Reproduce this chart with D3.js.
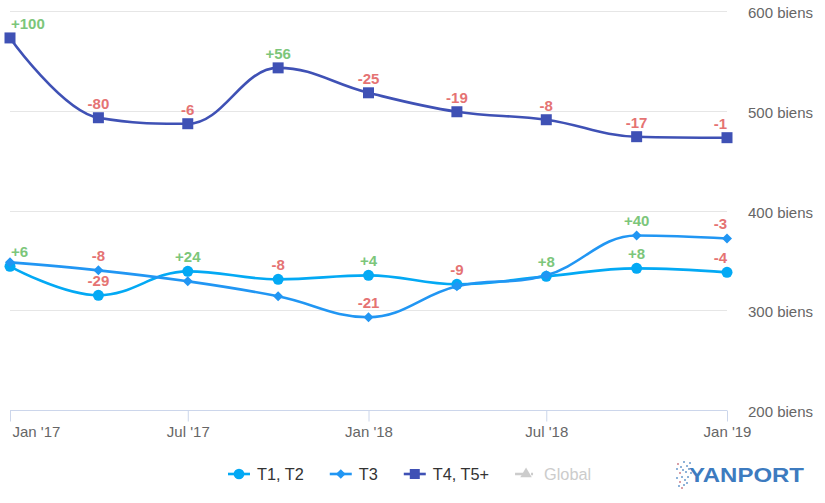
<!DOCTYPE html>
<html>
<head>
<meta charset="utf-8">
<script src="https://cdn.jsdelivr.net/npm/d3@7"></script>
<style>
  html, body { margin: 0; padding: 0; background: #fff; }
  svg { display: block; font-family: "Liberation Sans", Arial, sans-serif; }
</style>
</head>
<body>
<svg id="chart" width="825" height="503"></svg>
<script>
// ---- data ----
const dates = ["2017-01-01","2017-04-01","2017-07-01","2017-10-01","2018-01-01","2018-04-01","2018-07-01","2018-10-01","2019-01-01"];
const xTickDates = ["2017-01-01","2017-07-01","2018-01-01","2018-07-01","2019-01-01"];
const xTickLabels = ["Jan '17","Jul '17","Jan '18","Jul '18","Jan '19"];
const yTicks = [200, 300, 400, 500, 600];
const yTickSuffix = " biens";

const t12Values = [344, 315, 339, 331, 335, 326, 334, 342, 338];
const t12Changes = [6, -29, 24, -8, 4, -9, 8, 8, -4];
const t3Values = [348, 340, 329, 314, 293, 324, 335, 375, 372];
const t3Changes = [null, -8, null, null, -21, null, null, 40, -3];
const t45Values = [573, 493, 487, 543, 518, 499, 491, 474, 473];
const t45Changes = [100, -80, -6, 56, -25, -19, -8, -17, -1];

const seriesNames = ["T1, T2", "T3", "T4, T5+", "Global"];
const seriesColors = ["#03a9f4", "#2196f3", "#3f51b5", "#cccccc"];
const seriesSymbols = ["circle", "diamond", "square", "triangle"];

// ---- setup ----
const svg = d3.select("#chart");
const parse = d3.timeParse("%Y-%m-%d");
const X0 = 10, X1 = 727, Y0 = 410, Y1 = 11;

const x = d3.scaleTime().domain([parse(dates[0]), parse(dates[dates.length - 1])]).range([X0, X1]);
const y = d3.scaleLinear().domain([200, 600]).range([Y0, Y1]);

// gridlines
svg.append("g").selectAll("line").data(yTicks.filter(d => d !== 200)).join("line")
  .attr("x1", X0).attr("x2", X1)
  .attr("y1", d => Math.round(y(d)) + 0.5).attr("y2", d => Math.round(y(d)) + 0.5)
  .attr("stroke", "#e6e6e6").attr("stroke-width", 1);

// y labels (right)
svg.append("g").selectAll("text").data(yTicks).join("text")
  .attr("x", 748).attr("y", d => y(d) + 7)
  .attr("font-size", 15).attr("fill", "#666666")
  .text(d => d + yTickSuffix);

// x axis
const xAxisG = svg.append("g").attr("transform", `translate(0,${Y0 + 0.5})`)
  .call(d3.axisBottom(x).tickValues(xTickDates.map(parse)).tickSize(11).tickFormat((d, i) => xTickLabels[i]));
xAxisG.select(".domain").attr("stroke", "#ccd6eb").attr("d", `M${X0},0H${X1}`);
xAxisG.selectAll(".tick line").attr("stroke", "#ccd6eb");
xAxisG.selectAll(".tick text").attr("font-size", 15).attr("fill", "#666666")
  .attr("font-family", "Liberation Sans, Arial, sans-serif").attr("y", 16).attr("dy", "0.71em")
  .each(function(d) {
    const w = this.getComputedTextLength();
    const cx = x(d);
    if (cx - w / 2 < 11) d3.select(this).attr("text-anchor", "start").attr("x", 12 - cx);
  });

// Highcharts-like spline path
function splinePath(pts) {
  const smoothing = 1.5, denom = 2.5;
  const p = d3.path();
  const rc = [];
  pts.forEach((pt, i) => {
    const [px, py] = pt;
    let lcx, lcy, rcx, rcy;
    if (i > 0 && i < pts.length - 1) {
      const [lx, ly] = pts[i - 1], [nx, ny] = pts[i + 1];
      lcx = (smoothing * px + lx) / denom; lcy = (smoothing * py + ly) / denom;
      rcx = (smoothing * px + nx) / denom; rcy = (smoothing * py + ny) / denom;
      let corr = 0;
      if (rcx !== lcx) corr = ((rcy - lcy) * (rcx - px)) / (rcx - lcx) + py - rcy;
      lcy += corr; rcy += corr;
      if (lcy > ly && lcy > py) { lcy = Math.max(ly, py); rcy = 2 * py - lcy; }
      else if (lcy < ly && lcy < py) { lcy = Math.min(ly, py); rcy = 2 * py - lcy; }
      if (rcy > ny && rcy > py) { rcy = Math.max(ny, py); lcy = 2 * py - rcy; }
      else if (rcy < ny && rcy < py) { rcy = Math.min(ny, py); lcy = 2 * py - rcy; }
      rc[i] = [rcx, rcy];
    }
    if (i === 0) p.moveTo(px, py);
    else {
      const prev = rc[i - 1] || pts[i - 1];
      p.bezierCurveTo(prev[0], prev[1], lcx === undefined ? px : lcx, lcy === undefined ? py : lcy, px, py);
    }
  });
  return p.toString();
}

function symbolPath(type, size) {
  if (type === "circle") return d3.symbol(d3.symbolCircle, size)();
  if (type === "square") return d3.symbol(d3.symbolSquare, size)();
  if (type === "triangle") return d3.symbol(d3.symbolTriangle, size)();
  const r = Math.sqrt(size / 2);
  return `M0,${-r}L${r},0L0,${r}L${-r},0Z`;
}
const markerSizes = { circle: Math.PI * 5.5 * 5.5, diamond: 2 * 5 * 5, square: 11 * 11, triangle: 60 };

const series = [
  { values: t12Values, changes: t12Changes, idx: 0 },
  { values: t3Values, changes: t3Changes, idx: 1 },
  { values: t45Values, changes: t45Changes, idx: 2 }
];

const plotG = svg.append("g");
series.forEach(s => {
  const pts = s.values.map((v, i) => [x(parse(dates[i])), y(v)]);
  const g = plotG.append("g");
  g.append("path").attr("d", splinePath(pts)).attr("fill", "none")
    .attr("stroke", seriesColors[s.idx]).attr("stroke-width", 2.6)
    .attr("stroke-linejoin", "round").attr("stroke-linecap", "round");
  g.selectAll("path.m").data(pts).join("path").attr("class", "m")
    .attr("transform", d => `translate(${d[0]},${d[1]})`)
    .attr("d", symbolPath(seriesSymbols[s.idx], markerSizes[seriesSymbols[s.idx]]))
    .attr("fill", seriesColors[s.idx]);
});

// data labels
const labelG = svg.append("g");
series.forEach(s => {
  s.values.forEach((v, i) => {
    const c = s.changes[i];
    if (c === null) return;
    const px = x(parse(dates[i])), py = y(v);
    const t = labelG.append("text")
      .attr("x", px).attr("y", py - 9)
      .attr("text-anchor", "middle")
      .attr("font-size", 15).attr("font-weight", "bold")
      .attr("fill", c >= 0 ? "#7cc67a" : "#e57373")
      .text((c > 0 ? "+" : "") + c);
    const w = t.node().getComputedTextLength();
    if (px - w / 2 < X0 + 1) t.attr("text-anchor", "start").attr("x", X0 + 1);
    else if (px + w / 2 > X1) t.attr("text-anchor", "end").attr("x", X1);
  });
});

// legend
const legend = svg.append("g");
let cursor = 228;
const ly = 474;
seriesNames.forEach((name, i) => {
  const g = legend.append("g").attr("transform", `translate(${cursor},0)`);
  const hidden = i === 3;
  g.append("line").attr("x1", 0).attr("x2", 22).attr("y1", ly).attr("y2", ly)
    .attr("stroke", seriesColors[i]).attr("stroke-width", 2.6)
    .attr("stroke-dasharray", hidden ? "8,8,2,6" : null);
  g.append("path").attr("transform", `translate(11,${ly})`)
    .attr("d", symbolPath(seriesSymbols[i], seriesSymbols[i] === "square" ? 100 : markerSizes[seriesSymbols[i]] * 0.95))
    .attr("fill", seriesColors[i]);
  const t = g.append("text").attr("x", 29).attr("y", ly + 5.5)
    .attr("font-size", 16.3).attr("fill", hidden ? "#cccccc" : "#333333").text(name);
  cursor += 29 + t.node().getComputedTextLength() + 26;
});

// logo
const logo = svg.append("g");
const dotData = [[677,463],[680,466],[683,461],[686,465],[682,469],[679,472],[685,471],[688,468],[681,476],[684,479],[679,481],[683,484],[676,468],[689,462],[687,476],[681,487],[676,477],[690,472],[686,482],[678,485]];
logo.selectAll("rect").data(dotData).join("rect")
  .attr("x", d => d[0]).attr("y", d => d[1]).attr("width", 2).attr("height", 2)
  .attr("fill", (d, i) => i % 5 === 0 ? "#d9a0a8" : "#8fb3d9");
logo.append("text").attr("x", 689).attr("y", 482).attr("font-size", 19.5).attr("font-weight", "bold")
  .attr("fill", "#3d7bbf").attr("textLength", 115).attr("lengthAdjust", "spacingAndGlyphs").text("YANPORT");
</script>
</body>
</html>
